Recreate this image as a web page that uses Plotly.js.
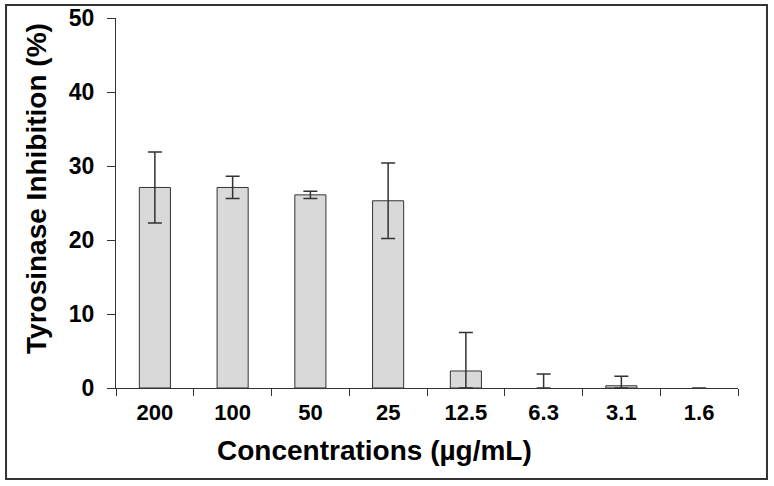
<!DOCTYPE html>
<html>
<head>
<meta charset="utf-8">
<script src="https://cdn.plot.ly/plotly-3.0.1.min.js"></script>
<style>
  html, body { margin: 0; padding: 0; background: #fff; }
  #chart { width: 774px; height: 486px; }
</style>
</head>
<body>
<div id="chart"></div>
<script>
// Data
const concentrations = ["200", "100", "50", "25", "12.5", "6.3", "3.1", "1.6"];
const inhibition     = [27.1, 27.1, 26.1, 25.3, 2.3, 0, 0.3, 0];
const errPlus        = [4.8, 1.5, 0.5, 5.1, 5.2, 1.9, 1.3, null];
const errMinus       = [4.8, 1.5, 0.5, 5.1, 2.3, 0, 0.3, null];

const yTitle = "Tyrosinase Inhibition (%)";
const xTitle = "Concentrations (µg/mL)";

const FONT = "Liberation Sans, Arial, sans-serif";

const trace = {
  type: "bar",
  x: concentrations,
  y: inhibition,
  marker: {
    color: "#d9d9d9",
    line: { color: "#333333", width: inhibition.map(v => (v > 0 ? 1 : 0)) }
  },
  error_y: {
    type: "data",
    symmetric: false,
    array: errPlus,
    arrayminus: errMinus,
    color: "#333333",
    thickness: 1.5,
    width: 7
  },
  hoverinfo: "skip"
};

const layout = {
  width: 774,
  height: 486,
  margin: { l: 116, r: 36, t: 18, b: 98 },
  paper_bgcolor: "#ffffff",
  plot_bgcolor: "#ffffff",
  showlegend: false,
  bargap: 0.6,
  font: { family: FONT, color: "#000000" },
  xaxis: {
    type: "category",
    showline: true,
    linecolor: "#333333",
    linewidth: 1,
    ticks: "outside",
    tickson: "boundaries",
    ticklen: 7,
    tickcolor: "#333333",
    tickwidth: 1,
    showgrid: false,
    zeroline: false,
    tickfont: { family: FONT, size: 22, weight: "bold", color: "#000" },
    ticklabelstandoff: 5
  },
  yaxis: {
    range: [0, 50],
    dtick: 10,
    showline: true,
    linecolor: "#333333",
    linewidth: 1,
    ticks: "outside",
    ticklen: 8,
    tickcolor: "#333333",
    tickwidth: 1,
    showgrid: false,
    zeroline: false,
    tickfont: { family: FONT, size: 23, weight: "bold", color: "#000" },
    ticklabelstandoff: 8
  },
  annotations: [
    {
      text: xTitle, xref: "paper", yref: "paper",
      x: 0.4148, y: -0.168, xanchor: "center", yanchor: "middle",
      showarrow: false,
      font: { family: FONT, size: 28, weight: "bold", color: "#000" }
    },
    {
      text: yTitle, xref: "paper", yref: "paper",
      x: -0.127, y: 0.538, xanchor: "center", yanchor: "middle",
      textangle: -90, showarrow: false,
      font: { family: FONT, size: 28, weight: "bold", color: "#000" }
    }
  ],
  shapes: [
    {
      type: "rect", xref: "paper", yref: "paper",
      x0: -0.1768, x1: 1.0466, y0: -0.2459, y1: 1.0351,
      line: { color: "#333333", width: 2 },
      fillcolor: "rgba(0,0,0,0)", layer: "below"
    }
  ]
};

Plotly.newPlot("chart", [trace], layout, { staticPlot: true, displayModeBar: false });
</script>
</body>
</html>
